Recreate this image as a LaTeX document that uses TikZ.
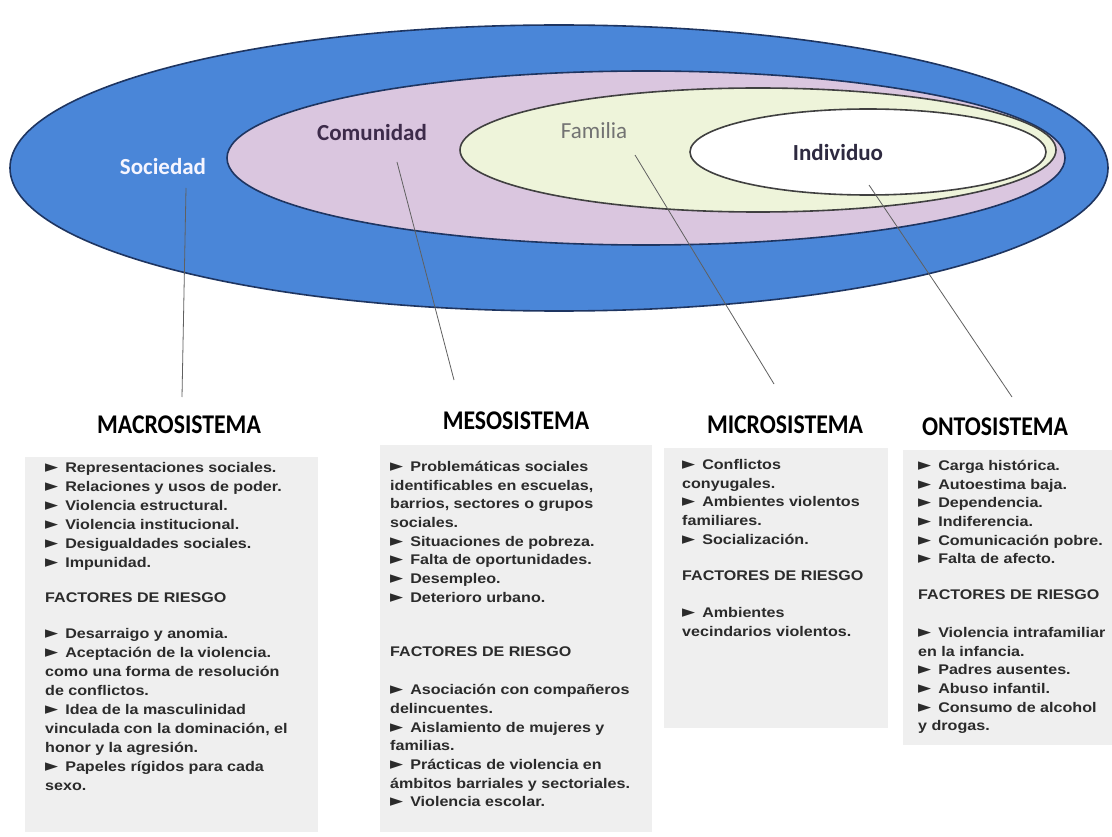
\documentclass[tikz,border=0pt]{standalone}
\usepackage{fontspec}
\setmainfont[FakeStretch=1.15]{Liberation Sans}
\newfontfamily\calibri{Carlito}
\newfontfamily\calibrinarrow[FakeStretch=0.88]{Carlito}
\newfontfamily\symb{DejaVu Sans}
\definecolor{socblue}{HTML}{4A86D8}
\definecolor{navy}{HTML}{1E3561}
\definecolor{lilac}{HTML}{DAC6DF}
\definecolor{pale}{HTML}{EEF4DA}
\definecolor{boxgray}{HTML}{EFEFEF}
\definecolor{txtgray}{HTML}{2B2B2B}
\definecolor{linegray}{HTML}{606060}
\newcommand{\tri}{{\symb\fontsize{17}{10}\selectfont ►}\hspace{7pt}}
\begin{document}
\begin{tikzpicture}[x=1pt, y=-1pt,
  ring/.style = {draw=navy, line width=1.6pt},
  ringname/.style = {font=\calibri\bfseries\fontsize{23}{27}\selectfont},
  head/.style = {fill=white, inner sep=0pt, font=\calibrinarrow\bfseries\fontsize{27}{31}\selectfont},
  items/.style = {anchor=north west, inner sep=0pt, align=left, text=txtgray,
    font=\bfseries\fontsize{14}{18.7}\selectfont},
  pointer/.style = {draw=linegray, line width=0.8pt}]
\useasboundingbox[fill=white] (0,0) rectangle (1112,837);

% nested ellipses
\draw[ring, fill=socblue] (559,168) ellipse [x radius=549pt, y radius=143pt];
\draw[ring, fill=lilac] (646,158) ellipse [x radius=419pt, y radius=87pt];
\draw[ring, draw=black!75, fill=pale] (758,150) ellipse [x radius=298pt, y radius=62pt];
\draw[ring, draw=black!75, fill=white] (868,152) ellipse [x radius=178pt, y radius=43pt];

\node[ringname, text=blue!4] (soc) at (163,167) {Sociedad};
\node[ringname, text={rgb,255:red,61;green,43;blue,74}] (com) at (372,133) {Comunidad};
\node[ringname, font=\calibri\fontsize{23}{27}\selectfont, text=black!55] (fam) at (594,131) {Familia};
\node[ringname, text={rgb,255:red,46;green,42;blue,64}] (ind) at (838,153) {Individuo};

% columns
\fill[boxgray] (25,457) rectangle (318,832);
\fill[boxgray] (380,445) rectangle (652,832);
\fill[boxgray] (664,448) rectangle (888,728);
\fill[boxgray] (903,450) rectangle (1112,745);

\node[head, minimum width=300pt, minimum height=44pt] (macro) at (179,425) {MACROSISTEMA};
\node[head, minimum width=260pt, minimum height=40pt] (meso) at (516,421) {MESOSISTEMA};
\node[head, minimum width=220pt, minimum height=40pt] (micro) at (785,425) {MICROSISTEMA};
\node[head, minimum width=180pt, minimum height=40pt] (onto) at (995,427) {ONTOSISTEMA};

\node[items, font=\bfseries\fontsize{14}{18.95}\selectfont] (macrolist) at (45,462) {%
\tri Representaciones sociales.\\
\tri Relaciones y usos de poder.\\
\tri Violencia estructural.\\
\tri Violencia institucional.\\
\tri Desigualdades sociales.\\
\tri Impunidad.\\[16pt]
FACTORES DE RIESGO\\[18pt]
\tri Desarraigo y anomia.\\
\tri Aceptación de la violencia.\\
como una forma de resolución\\
de conflictos.\\
\tri Idea de la masculinidad\\
vinculada con la dominación, el\\
honor y la agresión.\\
\tri Papeles rígidos para cada\\
sexo.};

\node[items] (mesolist) at (390,461) {%
\tri Problemáticas sociales\\
identificables en escuelas,\\
barrios, sectores o grupos\\
sociales.\\
\tri Situaciones de pobreza.\\
\tri Falta de oportunidades.\\
\tri Desempleo.\\
\tri Deterioro urbano.\\[35pt]
FACTORES DE RIESGO\\[20pt]
\tri Asociación con compañeros\\
delincuentes.\\
\tri Aislamiento de mujeres y\\
familias.\\
\tri Prácticas de violencia en\\
ámbitos barriales y sectoriales.\\
\tri Violencia escolar.};

\node[items] (microlist) at (682,459) {%
\tri Conflictos\\
conyugales.\\
\tri Ambientes violentos\\
familiares.\\
\tri Socialización.\\[18pt]
FACTORES DE RIESGO\\[18pt]
\tri Ambientes\\
vecindarios violentos.};

\node[items] (ontolist) at (918,460) {%
\tri Carga histórica.\\
\tri Autoestima baja.\\
\tri Dependencia.\\
\tri Indiferencia.\\
\tri Comunicación pobre.\\
\tri Falta de afecto.\\[17pt]
FACTORES DE RIESGO\\[19pt]
\tri Violencia intrafamiliar\\
en la infancia.\\
\tri Padres ausentes.\\
\tri Abuso infantil.\\
\tri Consumo de alcohol\\
y drogas.};

% pointers
\coordinate (soc-a) at (186,188);
\coordinate (soc-b) at (182,397);
\coordinate (com-a) at (397,162);
\coordinate (com-b) at (454,380);
\coordinate (fam-a) at (635,155);
\coordinate (fam-b) at (774,384);
\coordinate (ind-a) at (869,185);
\coordinate (ind-b) at (1012,397);
\draw[pointer] (soc-a) -- (soc-b);
\draw[pointer] (com-a) -- (com-b);
\draw[pointer] (fam-a) -- (fam-b);
\draw[pointer] (ind-a) -- (ind-b);
\end{tikzpicture}
\end{document}
